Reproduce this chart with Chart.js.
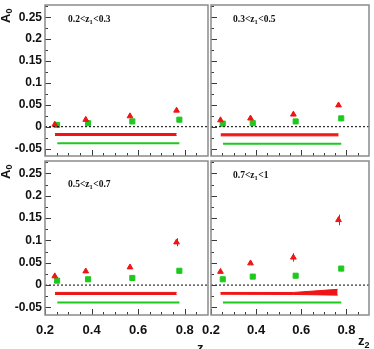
<!DOCTYPE html>
<html>
<head>
<meta charset="utf-8">
<script src="https://cdn.jsdelivr.net/npm/chart.js@4.4.0/dist/chart.umd.min.js"></script>
<style>
  html, body { margin: 0; padding: 0; background: #fff; }
  #wrap { position: relative; width: 374px; height: 349px; overflow: hidden; }
  #wrap canvas { position: absolute; left: 0; top: 0; }
</style>
</head>
<body>
<div id="wrap">
  <canvas id="p0" width="374" height="349"></canvas>
  <canvas id="p1" width="374" height="349"></canvas>
  <canvas id="p2" width="374" height="349"></canvas>
  <canvas id="p3" width="374" height="349"></canvas>
</div>
<script>
// z1 bin of each panel
const Z1_LO = ['0.2', '0.3', '0.5', '0.7'];
const Z1_HI = ['0.3', '0.5', '0.7', '1'];

// z2 of the markers
const RED_Z2 = [0.242, 0.375, 0.565, 0.765];
const GREEN_Z2 = [0.252, 0.385, 0.575, 0.777];

// A0, red triangles
const RED_1 = [0.005, 0.016, 0.024, 0.037];
const RED_2 = [0.015, 0.019, 0.028, 0.049];
const RED_3 = [0.020, 0.031, 0.040, 0.096];
const RED_4 = [0.030, 0.049, 0.062, 0.146];
const RED_ERR_1 = [0.002, 0.002, 0.002, 0.003];
const RED_ERR_2 = [0.002, 0.002, 0.003, 0.003];
const RED_ERR_3 = [0.003, 0.003, 0.003, 0.009];
const RED_ERR_4 = [0.003, 0.0045, 0.0094, 0.012];

// A0, green squares
const GREEN_1 = [0.004, 0.008, 0.012, 0.016];
const GREEN_2 = [0.007, 0.008, 0.012, 0.019];
const GREEN_3 = [0.010, 0.013, 0.016, 0.032];
const GREEN_4 = [0.013, 0.019, 0.021, 0.037];

// systematic bands
const SYS_RED_Z = [0.243, 0.765];
const SYS_RED_Z_4 = [0.242, 0.565, 0.761];
const SYS_RED_LO_1 = [-0.0202, -0.0202];
const SYS_RED_HI_1 = [-0.0156, -0.0156];
const SYS_RED_LO_2 = [-0.021, -0.021];
const SYS_RED_HI_2 = [-0.0164, -0.0164];
const SYS_RED_LO_3 = [-0.021, -0.021];
const SYS_RED_HI_3 = [-0.0164, -0.0164];
const SYS_RED_LO_4 = [-0.0205, -0.021, -0.0225];
const SYS_RED_HI_4 = [-0.0165, -0.0165, -0.0095];
const SYS_GREEN_Z = [0.253, 0.777];
const SYS_GREEN = [-0.038, -0.039, -0.039, -0.039];

// axes
const X_MIN = 0.2, X_MAX = 0.9;
const Y_MIN = -0.067, Y_MAX = 0.278;
const X_MAJOR = [0.2, 0.4, 0.6, 0.8];
const X_MINOR = [0.25, 0.3, 0.35, 0.45, 0.5, 0.55, 0.65, 0.7, 0.75, 0.85];
const Y_MAJOR = [-0.05, 0, 0.05, 0.1, 0.15, 0.2, 0.25];
const Y_MINOR = [-0.025, 0.025, 0.075, 0.125, 0.175, 0.225, 0.275];

const RED = 'rgb(240,20,20)';
const GREEN = 'rgb(30,200,30)';
const FONT = '"Liberation Sans", Arial, sans-serif';

const pts = (xs, ys) => xs.map((x, i) => ({ x: x, y: ys[i] }));

// ticks inside the frame, frame, error bars and texts
const decoPlugin = {
  id: 'deco',
  afterDatasetsDraw(chart, args, opts) {
    const { ctx, scales: { x, y } } = chart;
    ctx.save();
    // error bars of the red points
    ctx.strokeStyle = RED;
    ctx.lineWidth = 1;
    ctx.beginPath();
    opts.red.forEach((v, i) => {
      const px = Math.round(x.getPixelForValue(RED_Z2[i])) + 0.5;
      ctx.moveTo(px, y.getPixelForValue(v + opts.err[i]));
      ctx.lineTo(px, y.getPixelForValue(v - opts.err[i]));
    });
    ctx.stroke();
    ctx.restore();
  },
  afterDraw(chart, args, opts) {
    const { ctx, chartArea: a, scales: { x, y } } = chart;
    ctx.save();
    ctx.strokeStyle = '#3a3a3a';
    ctx.lineWidth = 1;
    ctx.beginPath();
    const ytick = (v, len) => {
      const py = Math.round(y.getPixelForValue(v)) + 0.5;
      ctx.moveTo(a.left, py); ctx.lineTo(a.left + len, py);
    };
    const xtick = (v, len) => {
      const px = Math.round(x.getPixelForValue(v)) + 0.5;
      ctx.moveTo(px, a.bottom); ctx.lineTo(px, a.bottom - len);
    };
    Y_MAJOR.forEach(v => ytick(v, 6));
    Y_MINOR.forEach(v => ytick(v, 3));
    X_MAJOR.forEach(v => xtick(v, 6));
    X_MINOR.forEach(v => xtick(v, 3));
    ctx.stroke();

    ctx.strokeStyle = '#8a8a8a';
    ctx.lineWidth = 1.5;
    ctx.strokeRect(a.left, a.top, a.right - a.left, a.bottom - a.top);

    // panel label  lo<z1<hi
    ctx.fillStyle = '#111';
    ctx.textBaseline = 'middle';
    let tx = a.left + opts.labelDx;
    const ty = a.top + opts.labelDy;
    const big = 'bold 9.5px "Liberation Serif", serif';
    const small = 'bold 6.5px "Liberation Serif", serif';
    ctx.font = big;
    const s1 = opts.lo + '<z';
    ctx.fillText(s1, tx, ty); tx += ctx.measureText(s1).width;
    ctx.font = small;
    ctx.fillText('1', tx, ty + 2.5); tx += ctx.measureText('1').width + 0.5;
    ctx.font = big;
    ctx.fillText('<' + opts.hi, tx, ty);

    ctx.textBaseline = 'alphabetic';
    if (opts.a0) {
      ctx.save();
      ctx.translate(10, a.top + 18);
      ctx.rotate(-Math.PI / 2);
      ctx.font = 'bold 13px ' + FONT;
      ctx.fillText('A', 0, 0);
      const w = ctx.measureText('A').width;
      ctx.font = 'bold 9px ' + FONT;
      ctx.fillText('0', w, 2);
      ctx.restore();
    }
    if (opts.z2) {
      const zx = a.right - 11;
      const zy = opts.z2;
      ctx.font = 'bold 13px ' + FONT;
      ctx.fillText('z', zx, zy);
      const w = ctx.measureText('z').width;
      ctx.font = 'bold 9px ' + FONT;
      ctx.fillText('2', zx + w, zy + 3);
    }
    ctx.restore();
  }
};

function makePanel(id, box, showX, showY, red, err, green, sysZ, sysLo, sysHi, sysGreen, deco) {
  const tickFont = { family: FONT, size: 12, weight: 'bold' };
  new Chart(document.getElementById(id), {
    type: 'scatter',
    data: {
      datasets: [
        { data: pts([X_MIN, X_MAX], [0, 0]), showLine: true, borderColor: '#000', borderWidth: 1,
          borderDash: [2, 2], pointRadius: 0 },
        { data: pts(sysZ, sysLo), showLine: true, borderColor: RED, borderWidth: 1, pointRadius: 0, fill: false },
        { data: pts(sysZ, sysHi), showLine: true, borderColor: RED, borderWidth: 1, pointRadius: 0,
          fill: '-1', backgroundColor: RED },
        { data: pts(SYS_GREEN_Z, [sysGreen, sysGreen]), showLine: true, borderColor: GREEN, borderWidth: 2,
          pointRadius: 0 },
        { data: pts(RED_Z2, red), pointStyle: 'triangle', pointRadius: 3.3, pointBorderWidth: 1,
          backgroundColor: RED, borderColor: RED },
        { data: pts(GREEN_Z2, green), pointStyle: 'rect', pointRadius: 3.6, pointBorderWidth: 1,
          backgroundColor: GREEN, borderColor: GREEN }
      ]
    },
    options: {
      animation: false,
      responsive: false,
      devicePixelRatio: 1,
      events: [],
      layout: {
        padding: {
          left: showY ? 0 : box.l,
          right: 374 - box.r,
          top: box.t,
          bottom: showX ? 0 : 349 - box.b
        }
      },
      plugins: { legend: { display: false }, tooltip: { enabled: false }, deco: deco },
      scales: {
        x: {
          type: 'linear', min: X_MIN, max: X_MAX, display: showX,
          grid: { display: false, drawTicks: false }, border: { display: false },
          afterBuildTicks: s => { s.ticks = X_MAJOR.map(v => ({ value: v })); },
          afterFit: s => {
            if (!showX) return;
            s.height = 349 - box.b; s.paddingLeft = 0; s.paddingRight = 0;
          },
          ticks: { autoSkip: false, maxRotation: 0, padding: 8, color: '#111',
                   font: { family: FONT, size: 13, weight: 'bold' },
                   callback: v => String(+v.toFixed(2)) }
        },
        y: {
          type: 'linear', min: Y_MIN, max: Y_MAX, display: showY,
          grid: { display: false, drawTicks: false }, border: { display: false },
          afterBuildTicks: s => { s.ticks = Y_MAJOR.map(v => ({ value: v })); },
          afterFit: s => {
            if (!showY) return;
            s.width = box.l; s.paddingTop = 0; s.paddingBottom = 0;
          },
          ticks: { autoSkip: false, padding: 3, color: '#111', font: tickFont,
                   callback: v => String(+v.toFixed(2)) }
        }
      }
    },
    plugins: [decoPlugin]
  });
}

const TL = { l: 45, r: 208, t: 1, b: 156 };
const TR = { l: 211, r: 372, t: 1, b: 156 };
const BL = { l: 45, r: 208, t: 161, b: 315 };
const BR = { l: 211, r: 372, t: 161, b: 315 };

makePanel('p0', TL, false, true, RED_1, RED_ERR_1, GREEN_1, SYS_RED_Z, SYS_RED_LO_1, SYS_RED_HI_1, SYS_GREEN[0],
  { red: RED_1, err: RED_ERR_1, lo: Z1_LO[0], hi: Z1_HI[0], labelDx: 23, labelDy: 15, a0: true, z2: 0 });
makePanel('p1', TR, false, false, RED_2, RED_ERR_2, GREEN_2, SYS_RED_Z, SYS_RED_LO_2, SYS_RED_HI_2, SYS_GREEN[1],
  { red: RED_2, err: RED_ERR_2, lo: Z1_LO[1], hi: Z1_HI[1], labelDx: 22, labelDy: 15, a0: false, z2: 0 });
makePanel('p2', BL, true, true, RED_3, RED_ERR_3, GREEN_3, SYS_RED_Z, SYS_RED_LO_3, SYS_RED_HI_3, SYS_GREEN[2],
  { red: RED_3, err: RED_ERR_3, lo: Z1_LO[2], hi: Z1_HI[2], labelDx: 23, labelDy: 24, a0: true, z2: 352 });
makePanel('p3', BR, true, false, RED_4, RED_ERR_4, GREEN_4, SYS_RED_Z_4, SYS_RED_LO_4, SYS_RED_HI_4, SYS_GREEN[3],
  { red: RED_4, err: RED_ERR_4, lo: Z1_LO[3], hi: Z1_HI[3], labelDx: 22, labelDy: 15, a0: false, z2: 345 });
</script>
</body>
</html>
